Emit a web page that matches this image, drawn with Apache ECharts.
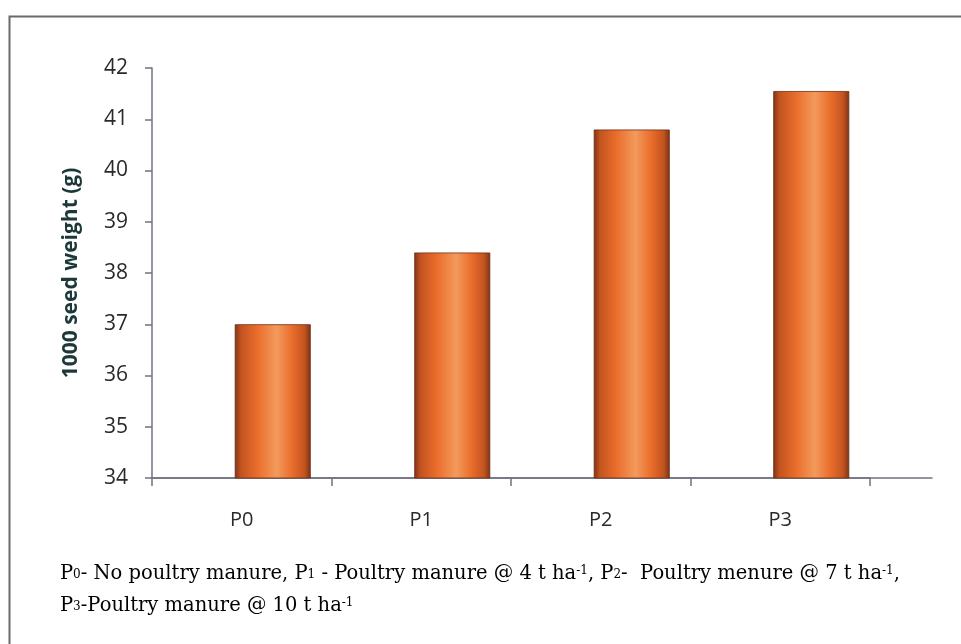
<!DOCTYPE html>
<html>
<head>
<meta charset="utf-8">
<script src="https://cdn.jsdelivr.net/npm/echarts@6/dist/echarts.min.js"></script>
<style>
html,body{margin:0;padding:0;background:#fff;}
#chart{width:961px;height:644px;}
</style>
</head>
<body>
<div id="chart"></div>
<script>
var categories = ['P0', 'P1', 'P2', 'P3'];
var seedWeight = [37.0, 38.4, 40.8, 41.55];
var yMin = 34, yMax = 42, yStep = 1;
var yTitle = '1000 seed weight (g)';

var chart = echarts.init(document.getElementById('chart'));
var axisColor = '#72727f';
var barGrad = new echarts.graphic.LinearGradient(0, 0, 1, 0, [
  {offset: 0, color: '#7e3418'},
  {offset: 0.08, color: '#c2531f'},
  {offset: 0.3, color: '#ea6e2c'},
  {offset: 0.55, color: '#f39a5c'},
  {offset: 0.75, color: '#ea6e2c'},
  {offset: 0.92, color: '#c2531f'},
  {offset: 1, color: '#7a3317'}
]);
var capFont = 'DejaVu Serif';
var capRich = {
  n: {fontFamily: capFont, fontSize: 19.5, color: '#222', height: 24, verticalAlign: 'bottom'},
  sub: {fontFamily: capFont, fontSize: 12, color: '#222', height: 22, verticalAlign: 'bottom'},
  sup: {fontFamily: capFont, fontSize: 12, color: '#222', height: 30, verticalAlign: 'top'}
};

var option = {
  backgroundColor: '#fff',
  animation: false,
  grid: [
    {left: 152, top: 68, width: 718, height: 410},
    {left: 183, top: 68, width: 718, height: 410},
    {left: 152, top: 68, width: 780, height: 410}
  ],
  xAxis: [
    {
      type: 'category', gridIndex: 0, data: categories,
      axisLine: {show: true, lineStyle: {color: axisColor, width: 1.5}},
      axisTick: {show: true, length: 8, lineStyle: {color: axisColor, width: 1.5}},
      axisLabel: {color: '#2a2a2a', fontSize: 20, fontFamily: 'Open Sans', margin: 32}
    },
    {
      type: 'category', gridIndex: 1, data: categories, show: false
    },
    {
      type: 'category', gridIndex: 2, data: categories,
      axisLine: {show: true, lineStyle: {color: axisColor, width: 1.5}},
      axisTick: {show: false}, axisLabel: {show: false}
    }
  ],
  yAxis: [
    {
      type: 'value', gridIndex: 0, min: yMin, max: yMax, interval: yStep,
      name: yTitle, nameLocation: 'middle', nameGap: 70, nameRotate: 90,
      nameTextStyle: {color: '#1d3838', fontSize: 21, fontWeight: 'bold', fontFamily: 'Open Sans'},
      axisLine: {show: true, lineStyle: {color: axisColor, width: 1.5}},
      axisTick: {show: true, length: 7, lineStyle: {color: axisColor, width: 1.5}},
      axisLabel: {color: '#2a2a2a', fontSize: 21, fontFamily: 'Open Sans', margin: 24},
      splitLine: {show: false}
    },
    {type: 'value', gridIndex: 1, min: yMin, max: yMax, interval: yStep, show: false, splitLine: {show: false}},
    {type: 'value', gridIndex: 2, min: yMin, max: yMax, interval: yStep, show: false, splitLine: {show: false}}
  ],
  series: [
    {
      type: 'bar', xAxisIndex: 1, yAxisIndex: 1, data: seedWeight,
      barWidth: 76,
      itemStyle: {color: barGrad, borderColor: '#6e2e14', borderWidth: 0.8},
      z: 1
    }
  ],
  graphic: [
    {
      type: 'rect', left: 7, top: 14, silent: true,
      shape: {width: 980, height: 660},
      style: {fill: 'none', stroke: '#6a6a6a', lineWidth: 2}
    },
    {
      type: 'text', left: 60, top: 564,
      style: {
        text: '{n|P}{sub|0}{n|- No poultry manure, P}{sub|1}{n| - Poultry manure @ 4 t ha}{sup|-1}{n|, P}{sub|2}{n|-  Poultry menure @ 7 t ha}{sup|-1}{n|,}',
        rich: capRich
      }
    },
    {
      type: 'text', left: 60, top: 596,
      style: {
        text: '{n|P}{sub|3}{n|-Poultry manure @ 10 t ha}{sup|-1}',
        rich: capRich
      }
    }
  ]
};
chart.setOption(option);
</script>
</body>
</html>
